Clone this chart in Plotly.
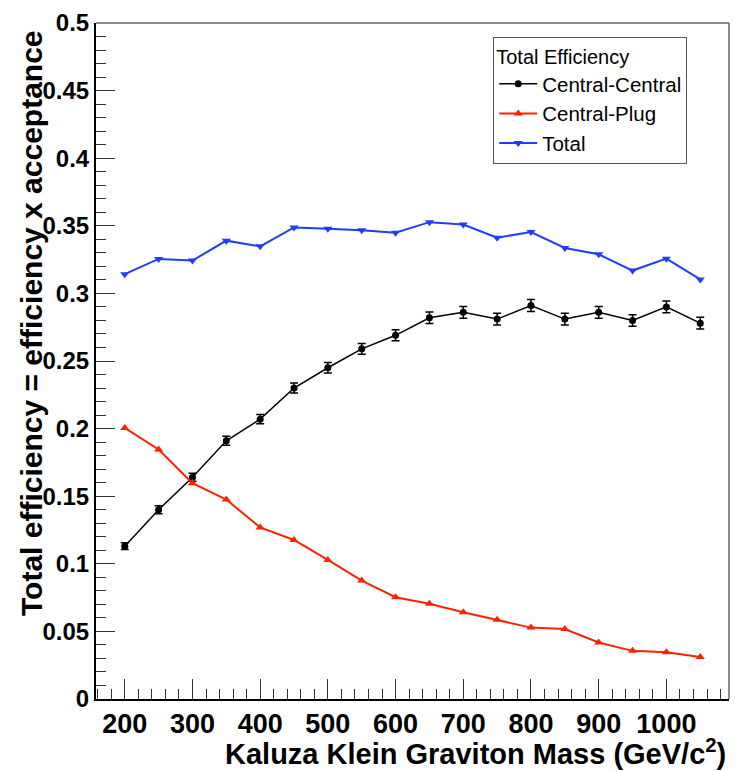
import plotly.graph_objects as go

# Kaluza-Klein graviton mass points (GeV/c^2)
mass = [200, 250, 300, 350, 400, 450, 500, 550, 600, 650,
        700, 750, 800, 850, 900, 950, 1000, 1050]

# Efficiency x acceptance per topology
central_central = [0.113, 0.140, 0.164, 0.191, 0.207, 0.230, 0.245, 0.259, 0.269,
                   0.282, 0.286, 0.281, 0.291, 0.281, 0.286, 0.280, 0.290, 0.278]
central_central_err = [0.0025, 0.0030, 0.0030, 0.0033, 0.0035, 0.0037, 0.0038, 0.0040, 0.0041,
                       0.0042, 0.0043, 0.0043, 0.0044, 0.0043, 0.0043, 0.0043, 0.0044, 0.0043]
central_plug = [0.2005, 0.1846, 0.1596, 0.1475, 0.1269, 0.1176, 0.1029, 0.0876, 0.0753,
                0.0705, 0.0641, 0.0587, 0.0528, 0.0518, 0.0418, 0.0356, 0.0346, 0.0311]
total = [0.3142, 0.3255, 0.3243, 0.3390, 0.3348, 0.3488, 0.3478, 0.3468, 0.3449,
         0.3527, 0.3510, 0.3412, 0.3454, 0.3336, 0.3289, 0.3169, 0.3257, 0.3103]

y_tickvals = [0, 0.05, 0.1, 0.15, 0.2, 0.25, 0.3, 0.35, 0.4, 0.45, 0.5]
y_ticktext = ["0", "0.05", "0.1", "0.15", "0.2", "0.25", "0.3", "0.35", "0.4", "0.45", "0.5"]
x_tickvals = [200, 300, 400, 500, 600, 700, 800, 900, 1000]
x_ticktext = ["200", "300", "400", "500", "600", "700", "800", "900", "1000"]

FONT = "Liberation Sans, Arial, Helvetica, sans-serif"

fig = go.Figure()

fig.add_trace(go.Scatter(
    x=mass, y=central_central, name="Central-Central", mode="lines+markers",
    line=dict(color="black", width=1.5),
    marker=dict(symbol="circle", size=7, color="black"),
    error_y=dict(type="data", array=central_central_err, color="black", thickness=1.5, width=4),
))
fig.add_trace(go.Scatter(
    x=mass, y=central_plug, name="Central-Plug", mode="lines+markers",
    line=dict(color="#ff2200", width=2),
    marker=dict(symbol="triangle-up", size=8, color="#ff2200"),
))
fig.add_trace(go.Scatter(
    x=mass, y=total, name="Total", mode="lines+markers",
    line=dict(color="#1f3cff", width=2),
    marker=dict(symbol="triangle-down", size=8, color="#1f3cff"),
))

fig.update_layout(
    width=738, height=771,
    margin=dict(l=96, r=9, t=20, b=72),
    paper_bgcolor="white", plot_bgcolor="white",
    font=dict(family=FONT, color="black"),
    showlegend=True,
    legend=dict(
        title=dict(text="Total Efficiency", font=dict(family=FONT, size=20, color="black")),
        font=dict(family=FONT, size=20.5, color="black"),
        x=0.6275, y=0.9794, xanchor="left", yanchor="top",
        bgcolor="white", bordercolor="#555555", borderwidth=1,
        itemwidth=38, tracegroupgap=0,
        entrywidth=178, entrywidthmode="pixels",
    ),
    xaxis=dict(
        range=[157.5, 1092.5], showgrid=False, zeroline=False,
        showline=True, linecolor="black", linewidth=2,
        tickmode="array", tickvals=x_tickvals, ticktext=x_ticktext, tickangle=0,
        ticks="inside", ticklen=20, tickwidth=1, tickcolor="#333333",
        minor=dict(dtick=20, tick0=0, ticks="inside", ticklen=10, tickwidth=1, tickcolor="#333333"),
        tickfont=dict(family=FONT, size=27, color="black", weight="bold"),
    ),
    yaxis=dict(
        range=[0, 0.5], showgrid=False, zeroline=False,
        showline=True, linecolor="black", linewidth=2,
        tickmode="array", tickvals=y_tickvals, ticktext=y_ticktext,
        ticks="inside", ticklen=19, tickwidth=1, tickcolor="#333333",
        minor=dict(dtick=0.01, tick0=0, ticks="inside", ticklen=10, tickwidth=1, tickcolor="#333333"),
        tickfont=dict(family=FONT, size=24, color="black", weight="bold"),
    ),
    annotations=[
        dict(text="Total efficiency = efficiency x acceptance", textangle=-90,
             xref="paper", yref="paper", x=-0.1027, y=0.9926,
             xanchor="center", yanchor="top", showarrow=False,
             font=dict(family=FONT, size=30, color="black", weight="bold")),
        dict(text="Kaluza Klein Graviton Mass (GeV/c<sup>2</sup>)",
             xref="paper", yref="paper", x=0.9984, y=-0.0781,
             xanchor="right", yanchor="middle", showarrow=False,
             font=dict(family=FONT, size=29, color="black", weight="bold")),
    ],
    shapes=[
        dict(type="line", xref="paper", yref="paper", x0=0, x1=1, y0=1, y1=1,
             line=dict(color="#666666", width=1.5)),
        dict(type="line", xref="paper", yref="paper", x0=1, x1=1, y0=0, y1=1,
             line=dict(color="#666666", width=1.5)),
    ],
)

fig.write_html("out.html")
